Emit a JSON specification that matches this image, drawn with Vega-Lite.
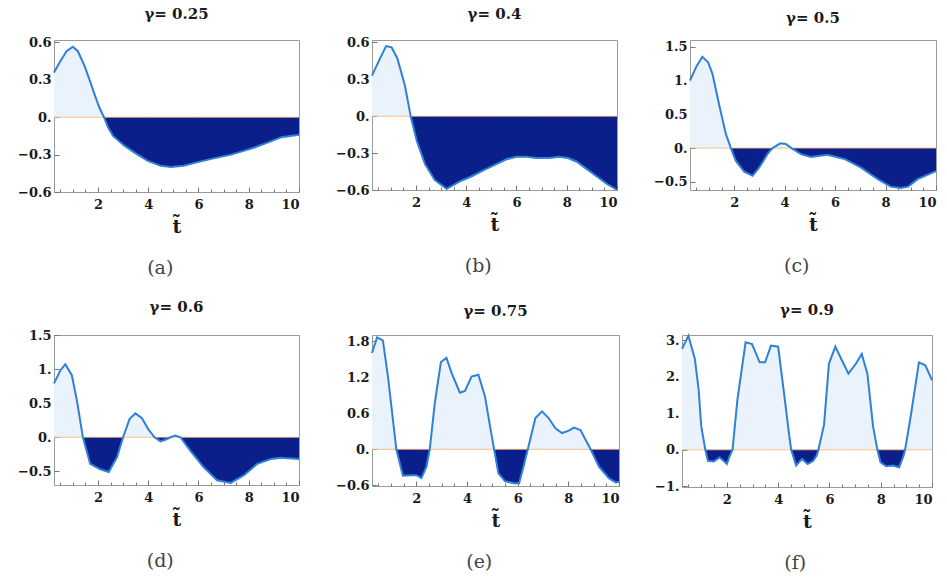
{
"$schema": "https://vega.github.io/schema/vega-lite/v6.json",
"padding": {"left": 16, "top": 6, "right": 5, "bottom": 5},
"background": "white",
"config": {
 "view": {"stroke": "#9a9a9a", "strokeWidth": 1},
 "axis": {"labelFont": "DejaVu Serif", "labelFontWeight": "bold", "labelFontSize": 13, "labelColor": "#1a1a1a", "domain": false, "grid": false, "tickColor": "#777", "titleFont": "DejaVu Serif", "titleFontWeight": "bold", "titleFontSize": 19, "titleColor": "#1a1a1a", "labelOverlap": false, "labelSeparation": -40},
 "title": {"font": "DejaVu Serif", "fontWeight": "bold", "fontSize": 15, "color": "#1a1a1a", "anchor": "middle"},
 "concat": {"spacing": 30}
},
"datasets": {
 "a": [{"t":0.25,"v":0.36},{"t":0.5,"v":0.45},{"t":0.75,"v":0.53},{"t":1.0,"v":0.566},{"t":1.2,"v":0.53},{"t":1.47,"v":0.41},{"t":1.7,"v":0.28},{"t":1.87,"v":0.18},{"t":2.05,"v":0.08},{"t":2.24,"v":0},{"t":2.4,"v":-0.08},{"t":2.6,"v":-0.15},{"t":3.06,"v":-0.23},{"t":3.5,"v":-0.29},{"t":3.98,"v":-0.35},{"t":4.5,"v":-0.39},{"t":4.9,"v":-0.4},{"t":5.4,"v":-0.39},{"t":5.97,"v":-0.36},{"t":6.6,"v":-0.33},{"t":7.3,"v":-0.3},{"t":7.8,"v":-0.27},{"t":8.2,"v":-0.245},{"t":8.8,"v":-0.2},{"t":9.3,"v":-0.16},{"t":10,"v":-0.14}],
 "b": [{"t":0.25,"v":0.33},{"t":0.57,"v":0.47},{"t":0.81,"v":0.57},{"t":1.03,"v":0.56},{"t":1.26,"v":0.47},{"t":1.56,"v":0.25},{"t":1.79,"v":0},{"t":2.03,"v":-0.2},{"t":2.36,"v":-0.39},{"t":2.75,"v":-0.52},{"t":3.22,"v":-0.59},{"t":3.75,"v":-0.53},{"t":4.2,"v":-0.49},{"t":4.68,"v":-0.44},{"t":5.2,"v":-0.39},{"t":5.6,"v":-0.35},{"t":6.0,"v":-0.33},{"t":6.4,"v":-0.33},{"t":6.8,"v":-0.34},{"t":7.3,"v":-0.34},{"t":7.7,"v":-0.33},{"t":8.05,"v":-0.34},{"t":8.4,"v":-0.37},{"t":8.8,"v":-0.43},{"t":9.2,"v":-0.49},{"t":9.6,"v":-0.55},{"t":10,"v":-0.6}],
 "c": [{"t":0.25,"v":1.0},{"t":0.52,"v":1.22},{"t":0.74,"v":1.35},{"t":0.97,"v":1.27},{"t":1.14,"v":1.1},{"t":1.4,"v":0.65},{"t":1.67,"v":0.21},{"t":1.87,"v":0},{"t":2.07,"v":-0.19},{"t":2.4,"v":-0.35},{"t":2.73,"v":-0.41},{"t":2.99,"v":-0.29},{"t":3.32,"v":-0.09},{"t":3.52,"v":0},{"t":3.83,"v":0.07},{"t":4.05,"v":0.06},{"t":4.27,"v":0},{"t":4.65,"v":-0.09},{"t":5.04,"v":-0.13},{"t":5.7,"v":-0.1},{"t":6.37,"v":-0.16},{"t":7.03,"v":-0.29},{"t":7.69,"v":-0.46},{"t":8.2,"v":-0.57},{"t":8.6,"v":-0.59},{"t":8.9,"v":-0.57},{"t":9.27,"v":-0.46},{"t":10,"v":-0.34}],
 "d": [{"t":0.25,"v":0.79},{"t":0.5,"v":0.98},{"t":0.7,"v":1.07},{"t":0.96,"v":0.91},{"t":1.16,"v":0.54},{"t":1.4,"v":0},{"t":1.69,"v":-0.39},{"t":2.09,"v":-0.47},{"t":2.43,"v":-0.51},{"t":2.76,"v":-0.29},{"t":3.0,"v":0},{"t":3.26,"v":0.27},{"t":3.49,"v":0.35},{"t":3.75,"v":0.28},{"t":4.0,"v":0.12},{"t":4.25,"v":0},{"t":4.49,"v":-0.06},{"t":4.75,"v":-0.025},{"t":4.88,"v":0},{"t":5.08,"v":0.025},{"t":5.28,"v":0},{"t":5.68,"v":-0.2},{"t":6.21,"v":-0.44},{"t":6.74,"v":-0.63},{"t":7.28,"v":-0.67},{"t":7.8,"v":-0.56},{"t":8.34,"v":-0.39},{"t":8.87,"v":-0.32},{"t":9.27,"v":-0.3},{"t":10,"v":-0.32}],
 "e": [{"t":0.25,"v":1.6},{"t":0.45,"v":1.86},{"t":0.68,"v":1.81},{"t":0.88,"v":1.21},{"t":1.03,"v":0.66},{"t":1.21,"v":0},{"t":1.47,"v":-0.44},{"t":1.8,"v":-0.43},{"t":2.0,"v":-0.43},{"t":2.2,"v":-0.48},{"t":2.4,"v":-0.29},{"t":2.53,"v":0},{"t":2.73,"v":0.77},{"t":2.97,"v":1.45},{"t":3.19,"v":1.52},{"t":3.39,"v":1.27},{"t":3.72,"v":0.94},{"t":3.92,"v":0.97},{"t":4.18,"v":1.21},{"t":4.45,"v":1.24},{"t":4.71,"v":0.88},{"t":4.91,"v":0.38},{"t":5.07,"v":0},{"t":5.24,"v":-0.4},{"t":5.5,"v":-0.53},{"t":5.9,"v":-0.57},{"t":6.06,"v":-0.56},{"t":6.23,"v":-0.29},{"t":6.4,"v":0},{"t":6.7,"v":0.52},{"t":6.96,"v":0.63},{"t":7.22,"v":0.52},{"t":7.49,"v":0.35},{"t":7.75,"v":0.27},{"t":8.02,"v":0.31},{"t":8.22,"v":0.36},{"t":8.48,"v":0.32},{"t":8.68,"v":0.16},{"t":8.88,"v":0},{"t":9.21,"v":-0.29},{"t":9.6,"v":-0.48},{"t":9.87,"v":-0.55},{"t":10,"v":-0.54}],
 "f": [{"t":0.25,"v":2.77},{"t":0.5,"v":3.13},{"t":0.75,"v":2.5},{"t":0.9,"v":1.64},{"t":1.0,"v":0.65},{"t":1.16,"v":0},{"t":1.26,"v":-0.3},{"t":1.49,"v":-0.32},{"t":1.71,"v":-0.21},{"t":1.87,"v":-0.3},{"t":2.0,"v":-0.39},{"t":2.09,"v":-0.21},{"t":2.22,"v":0},{"t":2.41,"v":1.37},{"t":2.73,"v":2.95},{"t":2.98,"v":2.9},{"t":3.28,"v":2.4},{"t":3.49,"v":2.4},{"t":3.72,"v":2.86},{"t":4.0,"v":2.83},{"t":4.23,"v":1.55},{"t":4.45,"v":0.29},{"t":4.51,"v":0},{"t":4.7,"v":-0.43},{"t":4.93,"v":-0.25},{"t":5.15,"v":-0.39},{"t":5.37,"v":-0.3},{"t":5.5,"v":-0.16},{"t":5.57,"v":0},{"t":5.79,"v":0.69},{"t":5.98,"v":2.36},{"t":6.23,"v":2.83},{"t":6.49,"v":2.45},{"t":6.74,"v":2.09},{"t":7.03,"v":2.36},{"t":7.26,"v":2.63},{"t":7.48,"v":2.09},{"t":7.7,"v":0.65},{"t":7.87,"v":0},{"t":7.99,"v":-0.34},{"t":8.21,"v":-0.45},{"t":8.47,"v":-0.43},{"t":8.72,"v":-0.48},{"t":8.89,"v":-0.16},{"t":8.95,"v":0},{"t":9.17,"v":0.92},{"t":9.49,"v":2.4},{"t":9.74,"v":2.32},{"t":10,"v":1.91}]
},
"vconcat": [
 {"hconcat": [
  {"title": {"text": "(a)", "orient": "bottom", "fontWeight": "normal", "fontSize": 19, "color": "#444", "offset": 22},
   "vconcat": [{"title": {"text": "γ= 0.25", "offset": 14}, "width": 245, "height": 152, "data": {"name": "a"},
    "encoding": {"x": {"field": "t", "type": "quantitative", "scale": {"domain": [0.25, 10], "nice": false, "zero": false}, "axis": {"values": [0.5,1,1.5,2,2.5,3,3.5,4,4.5,5,5.5,6,6.5,7,7.5,8,8.5,9,9.5,10], "labelExpr": "datum.value % 2 == 0 ? datum.value : ''", "labelOverlap": false, "tickSize": {"condition": {"test": "datum.value % 2 == 0", "value": -5}, "value": -3}, "labelPadding": 11, "title": "t̃", "titlePadding": 4}},
     "y": {"field": "v", "type": "quantitative", "scale": {"domain": [-0.6, 0.62], "nice": false, "zero": false}, "axis": {"values": [-0.6,-0.3,0,0.3,0.6], "labelOverlap": false, "labelExpr": "(datum.value < 0 ? '−' : '') + (abs(datum.value) % 1 == 0 ? format(abs(datum.value), 'd') + '.' : format(abs(datum.value), '.1f'))", "tickSize": -5, "labelPadding": 8, "title": null}}},
    "layer": [
     {"transform": [{"filter": "datum.v >= 0"}], "mark": {"type": "area", "color": "#eaf2fb"}, "encoding": {"y2": {"datum": 0}}},
     {"transform": [{"filter": "datum.v <= 0"}], "mark": {"type": "area", "color": "#0b1f8a"}, "encoding": {"y2": {"datum": 0}}},
     {"mark": {"type": "line", "color": "#f5b070", "strokeWidth": 1, "opacity": 0.8}, "encoding": {"y": {"datum": 0}}},
     {"mark": {"type": "line", "color": "#2f80d8", "strokeWidth": 2}, "encoding": {}}
    ]}]},
  {"title": {"text": "(b)", "orient": "bottom", "fontWeight": "normal", "fontSize": 19, "color": "#444", "offset": 22},
   "vconcat": [{"title": {"text": "γ= 0.4", "offset": 14}, "width": 245, "height": 150, "data": {"name": "b"},
    "encoding": {"x": {"field": "t", "type": "quantitative", "scale": {"domain": [0.25, 10], "nice": false, "zero": false}, "axis": {"values": [0.5,1,1.5,2,2.5,3,3.5,4,4.5,5,5.5,6,6.5,7,7.5,8,8.5,9,9.5,10], "labelExpr": "datum.value % 2 == 0 ? datum.value : ''", "labelOverlap": false, "tickSize": {"condition": {"test": "datum.value % 2 == 0", "value": -5}, "value": -3}, "labelPadding": 11, "title": "t̃", "titlePadding": 4}},
     "y": {"field": "v", "type": "quantitative", "scale": {"domain": [-0.6, 0.62], "nice": false, "zero": false}, "axis": {"values": [-0.6,-0.3,0,0.3,0.6], "labelOverlap": false, "labelExpr": "(datum.value < 0 ? '−' : '') + (abs(datum.value) % 1 == 0 ? format(abs(datum.value), 'd') + '.' : format(abs(datum.value), '.1f'))", "tickSize": -5, "labelPadding": 8, "title": null}}},
    "layer": [
     {"transform": [{"filter": "datum.v >= 0"}], "mark": {"type": "area", "color": "#eaf2fb"}, "encoding": {"y2": {"datum": 0}}},
     {"transform": [{"filter": "datum.v <= 0"}], "mark": {"type": "area", "color": "#0b1f8a"}, "encoding": {"y2": {"datum": 0}}},
     {"mark": {"type": "line", "color": "#f5b070", "strokeWidth": 1, "opacity": 0.8}, "encoding": {"y": {"datum": 0}}},
     {"mark": {"type": "line", "color": "#2f80d8", "strokeWidth": 2}, "encoding": {}}
    ]}]},
  {"title": {"text": "(c)", "orient": "bottom", "fontWeight": "normal", "fontSize": 19, "color": "#444", "offset": 22},
   "vconcat": [{"title": {"text": "γ= 0.5", "offset": 14}, "width": 246, "height": 150, "data": {"name": "c"},
    "encoding": {"x": {"field": "t", "type": "quantitative", "scale": {"domain": [0.25, 10], "nice": false, "zero": false}, "axis": {"values": [0.5,1,1.5,2,2.5,3,3.5,4,4.5,5,5.5,6,6.5,7,7.5,8,8.5,9,9.5,10], "labelExpr": "datum.value % 2 == 0 ? datum.value : ''", "labelOverlap": false, "tickSize": {"condition": {"test": "datum.value % 2 == 0", "value": -5}, "value": -3}, "labelPadding": 11, "title": "t̃", "titlePadding": 4}},
     "y": {"field": "v", "type": "quantitative", "scale": {"domain": [-0.62, 1.6], "nice": false, "zero": false}, "axis": {"values": [-0.5,0,0.5,1,1.5], "labelOverlap": false, "labelExpr": "(datum.value < 0 ? '−' : '') + (abs(datum.value) % 1 == 0 ? format(abs(datum.value), 'd') + '.' : format(abs(datum.value), '.1f'))", "tickSize": -5, "labelPadding": 8, "title": null}}},
    "layer": [
     {"transform": [{"filter": "datum.v >= 0"}], "mark": {"type": "area", "color": "#eaf2fb"}, "encoding": {"y2": {"datum": 0}}},
     {"transform": [{"filter": "datum.v <= 0"}], "mark": {"type": "area", "color": "#0b1f8a"}, "encoding": {"y2": {"datum": 0}}},
     {"mark": {"type": "line", "color": "#f5b070", "strokeWidth": 1, "opacity": 0.8}, "encoding": {"y": {"datum": 0}}},
     {"mark": {"type": "line", "color": "#2f80d8", "strokeWidth": 2}, "encoding": {}}
    ]}]}
 ]},
 {"hconcat": [
  {"title": {"text": "(d)", "orient": "bottom", "fontWeight": "normal", "fontSize": 19, "color": "#444", "offset": 22},
   "vconcat": [{"title": {"text": "γ= 0.6", "offset": 14}, "width": 245, "height": 150, "data": {"name": "d"},
    "encoding": {"x": {"field": "t", "type": "quantitative", "scale": {"domain": [0.25, 10], "nice": false, "zero": false}, "axis": {"values": [0.5,1,1.5,2,2.5,3,3.5,4,4.5,5,5.5,6,6.5,7,7.5,8,8.5,9,9.5,10], "labelExpr": "datum.value % 2 == 0 ? datum.value : ''", "labelOverlap": false, "tickSize": {"condition": {"test": "datum.value % 2 == 0", "value": -5}, "value": -3}, "labelPadding": 11, "title": "t̃", "titlePadding": 4}},
     "y": {"field": "v", "type": "quantitative", "scale": {"domain": [-0.7, 1.5], "nice": false, "zero": false}, "axis": {"values": [-0.5,0,0.5,1,1.5], "labelOverlap": false, "labelExpr": "(datum.value < 0 ? '−' : '') + (abs(datum.value) % 1 == 0 ? format(abs(datum.value), 'd') + '.' : format(abs(datum.value), '.1f'))", "tickSize": -5, "labelPadding": 8, "title": null}}},
    "layer": [
     {"transform": [{"filter": "datum.v >= 0"}], "mark": {"type": "area", "color": "#eaf2fb"}, "encoding": {"y2": {"datum": 0}}},
     {"transform": [{"filter": "datum.v <= 0"}], "mark": {"type": "area", "color": "#0b1f8a"}, "encoding": {"y2": {"datum": 0}}},
     {"mark": {"type": "line", "color": "#f5b070", "strokeWidth": 1, "opacity": 0.8}, "encoding": {"y": {"datum": 0}}},
     {"mark": {"type": "line", "color": "#2f80d8", "strokeWidth": 2}, "encoding": {}}
    ]}]},
  {"title": {"text": "(e)", "orient": "bottom", "fontWeight": "normal", "fontSize": 19, "color": "#444", "offset": 22},
   "vconcat": [{"title": {"text": "γ= 0.75", "offset": 14}, "width": 247, "height": 151, "data": {"name": "e"},
    "encoding": {"x": {"field": "t", "type": "quantitative", "scale": {"domain": [0.25, 10], "nice": false, "zero": false}, "axis": {"values": [0.5,1,1.5,2,2.5,3,3.5,4,4.5,5,5.5,6,6.5,7,7.5,8,8.5,9,9.5,10], "labelExpr": "datum.value % 2 == 0 ? datum.value : ''", "labelOverlap": false, "tickSize": {"condition": {"test": "datum.value % 2 == 0", "value": -5}, "value": -3}, "labelPadding": 11, "title": "t̃", "titlePadding": 4}},
     "y": {"field": "v", "type": "quantitative", "scale": {"domain": [-0.61, 1.9], "nice": false, "zero": false}, "axis": {"values": [-0.6,0,0.6,1.2,1.8], "labelOverlap": false, "labelExpr": "(datum.value < 0 ? '−' : '') + (abs(datum.value) % 1 == 0 ? format(abs(datum.value), 'd') + '.' : format(abs(datum.value), '.1f'))", "tickSize": -5, "labelPadding": 8, "title": null}}},
    "layer": [
     {"transform": [{"filter": "datum.v >= 0"}], "mark": {"type": "area", "color": "#eaf2fb"}, "encoding": {"y2": {"datum": 0}}},
     {"transform": [{"filter": "datum.v <= 0"}], "mark": {"type": "area", "color": "#0b1f8a"}, "encoding": {"y2": {"datum": 0}}},
     {"mark": {"type": "line", "color": "#f5b070", "strokeWidth": 1, "opacity": 0.8}, "encoding": {"y": {"datum": 0}}},
     {"mark": {"type": "line", "color": "#2f80d8", "strokeWidth": 2}, "encoding": {}}
    ]}]},
  {"title": {"text": "(f)", "orient": "bottom", "fontWeight": "normal", "fontSize": 19, "color": "#444", "offset": 22},
   "vconcat": [{"title": {"text": "γ= 0.9", "offset": 14}, "width": 250, "height": 152, "data": {"name": "f"},
    "encoding": {"x": {"field": "t", "type": "quantitative", "scale": {"domain": [0.25, 10], "nice": false, "zero": false}, "axis": {"values": [0.5,1,1.5,2,2.5,3,3.5,4,4.5,5,5.5,6,6.5,7,7.5,8,8.5,9,9.5,10], "labelExpr": "datum.value % 2 == 0 ? datum.value : ''", "labelOverlap": false, "tickSize": {"condition": {"test": "datum.value % 2 == 0", "value": -5}, "value": -3}, "labelPadding": 11, "title": "t̃", "titlePadding": 4}},
     "y": {"field": "v", "type": "quantitative", "scale": {"domain": [-1.02, 3.15], "nice": false, "zero": false}, "axis": {"values": [-1,0,1,2,3], "labelOverlap": false, "labelExpr": "(datum.value < 0 ? '−' : '') + (abs(datum.value) % 1 == 0 ? format(abs(datum.value), 'd') + '.' : format(abs(datum.value), '.1f'))", "tickSize": -5, "labelPadding": 8, "title": null}}},
    "layer": [
     {"transform": [{"filter": "datum.v >= 0"}], "mark": {"type": "area", "color": "#eaf2fb"}, "encoding": {"y2": {"datum": 0}}},
     {"transform": [{"filter": "datum.v <= 0"}], "mark": {"type": "area", "color": "#0b1f8a"}, "encoding": {"y2": {"datum": 0}}},
     {"mark": {"type": "line", "color": "#f5b070", "strokeWidth": 1, "opacity": 0.8}, "encoding": {"y": {"datum": 0}}},
     {"mark": {"type": "line", "color": "#2f80d8", "strokeWidth": 2}, "encoding": {}}
    ]}]}
 ]}
],
"spacing": 21
}
